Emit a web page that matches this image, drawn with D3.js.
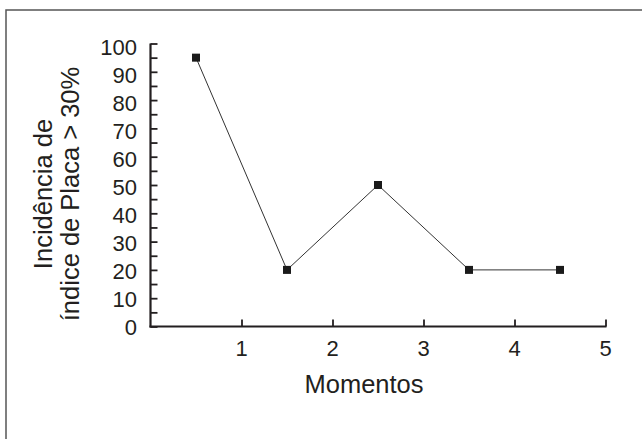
<!DOCTYPE html>
<html>
<head>
<meta charset="utf-8">
<script src="https://cdn.jsdelivr.net/npm/d3@7"></script>
<style>
  html, body { margin: 0; padding: 0; background: #fff; }
  svg { display: block; }
  text { font-family: "Liberation Sans", Arial, Helvetica, sans-serif; fill: #231f20; }
</style>
</head>
<body>
<script>
// ---- data ----
const moments = [0.5, 1.5, 2.5, 3.5, 4.5];
const incidence = [95, 20, 50, 20, 20];
const xTickValues = [1, 2, 3, 4, 5];
const yTickValues = [0, 5, 10, 15, 20, 25, 30, 35, 40, 45, 50, 55, 60, 65, 70, 75, 80, 85, 90, 95, 100];
const yLabelValues = [0, 10, 20, 30, 40, 50, 60, 70, 80, 90, 100];
const xTitle = "Momentos";
const yTitleLines = ["Incidência de", "índice de Placa > 30%"];

const W = 642, H = 439;
const svg = d3.select("body").append("svg").attr("width", W).attr("height", H);

// frame (only top and left edges visible in the reference)
svg.append("path")
  .attr("d", `M6,${H} L6,10 L${W},10`)
  .attr("fill", "none").attr("stroke", "#555").attr("stroke-width", 1.5);

const x = d3.scaleLinear().domain([0, 5]).range([150.5, 605.5]);
const y = d3.scaleLinear().domain([0, 100]).range([326.5, 43.5]);
// tick label baselines (labels sit slightly below their ticks in the reference)
const yLab = d3.scaleLinear().domain([0, 100]).range([335, 55]);

const axisColor = "#231f20";

// y axis
const gy = svg.append("g").attr("transform", `translate(${x(0)},0)`)
  .call(d3.axisRight(y).tickValues(yTickValues).tickSize(7).tickFormat(""));
gy.select(".domain").attr("d", `M0,${y(0) + 1}V${y(100)}`).attr("stroke", axisColor).attr("stroke-width", 2.2);
gy.selectAll(".tick line").attr("stroke", axisColor).attr("stroke-width", 1.8);

svg.append("g").selectAll("text").data(yLabelValues).join("text")
  .attr("x", 137).attr("y", d => yLab(d))
  .attr("text-anchor", "end").attr("font-size", 22)
  .text(d => d);

// x axis
const gx = svg.append("g").attr("transform", `translate(0,${y(0)})`)
  .call(d3.axisTop(x).tickValues(xTickValues).tickSize(7).tickFormat(""));
gx.select(".domain").attr("d", `M${x(0) - 1},0H${x(5) + 1}`).attr("stroke", axisColor).attr("stroke-width", 2.2);
gx.selectAll(".tick line").attr("stroke", axisColor).attr("stroke-width", 1.8);

svg.append("g").selectAll("text").data(xTickValues).join("text")
  .attr("x", d => x(d)).attr("y", 356)
  .attr("text-anchor", "middle").attr("font-size", 22)
  .text(d => d);

// axis titles
svg.append("text")
  .attr("x", 364).attr("y", 393)
  .attr("text-anchor", "middle").attr("font-size", 25.5)
  .text(xTitle);

const yt = svg.append("text")
  .attr("transform", "translate(0,194) rotate(-90)")
  .attr("text-anchor", "middle").attr("font-size", 25.5);
yt.selectAll("tspan").data(yTitleLines).join("tspan")
  .attr("x", 0).attr("y", (d, i) => i === 0 ? 51.5 : 79)
  .text(d => d);

// line + markers
const pts = moments.map((m, i) => [m, incidence[i]]);
svg.append("path")
  .datum(pts)
  .attr("fill", "none").attr("stroke", "#333").attr("stroke-width", 1)
  .attr("d", d3.line().x(d => x(d[0])).y(d => y(d[1])));

svg.append("g").selectAll("rect").data(pts).join("rect")
  .attr("x", d => x(d[0]) - 4).attr("y", d => y(d[1]) - 4)
  .attr("width", 8).attr("height", 8)
  .attr("fill", "#1a1a1a");
</script>
</body>
</html>
